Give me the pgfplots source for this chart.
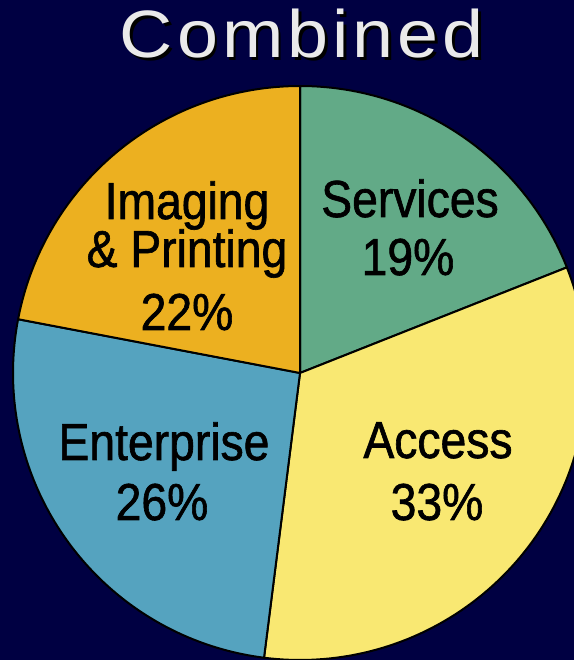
\documentclass[border=0pt]{standalone}
\usepackage{pgfplots}
\pgfplotsset{compat=1.18}
\usepackage{pgfplotstable}
\usepackage{fontspec}
\setmainfont{Liberation Sans}
\newfontfamily\narrow[FakeStretch=0.89, FakeBold=1.2]{Liberation Sans}
\newfontfamily\titlefont[FakeStretch=1.1, LetterSpace=6]{Liberation Sans}

\definecolor{bg}{HTML}{000042}
\definecolor{services}{HTML}{62AA87}
\definecolor{access}{HTML}{F9E872}
\definecolor{enterprise}{HTML}{55A3BF}
\definecolor{imaging}{HTML}{ECB020}
\definecolor{titlegray}{HTML}{EAEAEA}

% share of each segment, clockwise from twelve o'clock
\pgfplotstableread{
name       pct
Services   19
Access     33
Enterprise 26
Imaging    22
}\piedata

\begin{document}
\begin{tikzpicture}
\fill[bg] (0,0) rectangle (574bp,660bp);
\begin{scope}
\clip (0,0) rectangle (574bp,660bp);
\begin{axis}[
    at={(300bp,287bp)}, anchor=origin,
    x=287bp, y=287bp,
    xmin=-1.1, xmax=1.1, ymin=-1.1, ymax=1.1,
    hide axis, clip=false,
]
  \pgfmathsetmacro\start{90}
  \foreach \i/\col in {0/services,1/access,2/enterprise,3/imaging}{
    \pgfplotstablegetelem{\i}{pct}\of\piedata
    \pgfmathsetmacro\stop{\start-3.6*\pgfplotsretval}
    \edef\temp{\noexpand\addplot[fill=\col, draw=black, line width=2bp,
      line join=round, domain=\stop:\start, samples=90, variable=\noexpand\t]
      ({cos(\noexpand\t)},{sin(\noexpand\t)}) -- (axis cs:0,0) -- cycle;}
    \temp
    \global\let\start\stop
  }
\end{axis}
\end{scope}

\begin{scope}[every node/.style={anchor=base, inner sep=0pt, text=black,
    font=\narrow\fontsize{52bp}{52bp}\selectfont}]
  \node at (410bp,443bp) {Services};
  \node at (408bp,385bp) {19\%};
  \node at (187bp,441bp) {Imaging};
  \node at (187bp,393bp) {\& Printing};
  \node at (187bp,330bp) {22\%};
  \node at (164bp,200bp) {Enterprise};
  \node at (162bp,140bp) {26\%};
  \node at (438bp,202bp) {Access};
  \node at (437bp,140bp) {33\%};
\end{scope}

\node[anchor=base, inner sep=0pt, text=black,
  font=\titlefont\fontsize{67bp}{67bp}\selectfont] at (304.5bp,599.5bp) {Combined};
\node[anchor=base, inner sep=0pt, text=titlegray,
  font=\titlefont\fontsize{67bp}{67bp}\selectfont] at (302bp,602bp) {Combined};

\pgfresetboundingbox
\path[use as bounding box] (0,0) rectangle (574bp,660bp);
\end{tikzpicture}
\end{document}
